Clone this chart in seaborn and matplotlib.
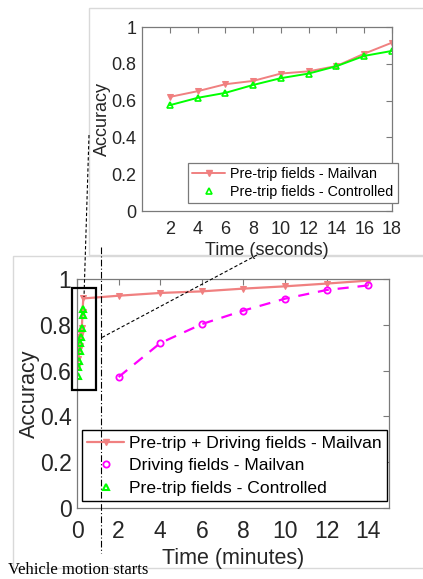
import matplotlib
matplotlib.use("Agg")
import matplotlib.pyplot as plt
from matplotlib.lines import Line2D
from matplotlib.patches import Rectangle
import seaborn as sns

# inset panel: pre-trip fields only, time in seconds
seconds = [2, 4, 6, 8, 10, 12, 14, 16, 18]
pretrip_mailvan = [0.62, 0.651, 0.689, 0.707, 0.747, 0.759, 0.788, 0.855, 0.915]
pretrip_controlled = [0.575, 0.615, 0.642, 0.685, 0.722, 0.747, 0.787, 0.843, 0.87]

# main panel: time in minutes after vehicle motion starts
minutes = [2, 4, 6, 8, 10, 12, 14]
combined_mailvan = [0.927, 0.939, 0.946, 0.958, 0.968, 0.98, 0.993]
driving_mailvan = [0.572, 0.72, 0.803, 0.862, 0.914, 0.952, 0.972]

RED = "#f08080"
GREEN = "#00ff00"
MAGENTA = "#ff00ff"
GREY = "#7a7a7a"
TXT = "#262626"

sns.set_theme(style="white")
plt.rcParams["font.family"] = ["Liberation Sans", "DejaVu Sans"]

W, H = 423, 579
fig = plt.figure(figsize=(W / 100, H / 100), dpi=100)


def fx(px):
    return px / W


def fy(py):
    return 1 - py / H


# white panels with light grey frame (two stacked figures), behind the axes
fig.patches.append(Rectangle((fx(13), fy(568)), fx(430 - 13), (568 - 256) / H,
                             transform=fig.transFigure, facecolor="white",
                             edgecolor="#d9d9d9", lw=1, zorder=-2))
fig.patches.append(Rectangle((fx(89), fy(255)), fx(430 - 89), (255 - 8) / H,
                             transform=fig.transFigure, facecolor="white",
                             edgecolor="#d9d9d9", lw=1, zorder=-2))


def matlab_style(ax, fs, xpad):
    for s in ax.spines.values():
        s.set_visible(True)
        s.set_color(GREY)
        s.set_linewidth(0.9)
    ax.tick_params(axis="both", direction="in", top=True, right=True, length=4,
                   width=0.8, color=GREY, labelsize=fs, labelcolor=TXT)
    ax.tick_params(axis="x", pad=xpad)
    ax.tick_params(axis="y", pad=4)
    ax.patch.set_alpha(0)


# ---------------- main axes ----------------
ax = fig.add_axes([fx(77), fy(508), fx(389 - 77), (508 - 279) / H])
t_main = [s / 60 for s in seconds] + minutes
acc_main = pretrip_mailvan + combined_mailvan
sns.lineplot(x=t_main, y=acc_main, ax=ax, color=RED, lw=1.6, marker="v",
             markersize=5, markeredgecolor=RED, sort=False)
sns.lineplot(x=minutes, y=driving_mailvan, ax=ax, color=MAGENTA, lw=1.6,
             linestyle=(0, (5, 4)), marker="o", markersize=4.5,
             markerfacecolor="none", markeredgecolor=MAGENTA, markeredgewidth=1.3)
sns.lineplot(x=[s / 60 for s in seconds], y=pretrip_controlled, ax=ax,
             color=GREEN, linestyle="", marker="^", markersize=5,
             markerfacecolor="none", markeredgecolor=GREEN, markeredgewidth=1.5)
ax.set_xlim(0, 15)
ax.set_ylim(0, 1)
ax.set_xticks(range(0, 15, 2))
ax.set_yticks([0, 0.2, 0.4, 0.6, 0.8, 1])
ax.set_yticklabels(["0", "0.2", "0.4", "0.6", "0.8", "1"])
matlab_style(ax, 16.5, 9)
ax.set_xlabel("Time (minutes)", fontsize=15.5, color=TXT, labelpad=3)
ax.set_ylabel("Accuracy", fontsize=15.5, color=TXT, labelpad=0)

handles = [
    Line2D([], [], color=RED, lw=1.6, marker="v", markersize=5),
    Line2D([], [], color=MAGENTA, linestyle="", marker="o", markersize=4.5,
           markerfacecolor="none", markeredgewidth=1.3),
    Line2D([], [], color=GREEN, linestyle="", marker="^", markersize=5,
           markerfacecolor="none", markeredgewidth=1.5),
]
leg = ax.legend(handles, ["Pre-trip + Driving fields - Mailvan",
                          "Driving fields - Mailvan",
                          "Pre-trip fields - Controlled"],
                loc="lower left", bbox_to_anchor=(0.016, 0.03), fontsize=12.6,
                frameon=True, fancybox=False, framealpha=1, edgecolor="black",
                handlelength=2.1, handletextpad=0.3, borderpad=0.3,
                labelspacing=0.42, borderaxespad=0)
leg.get_frame().set_linewidth(1.0)
for t in leg.get_texts():
    t.set_color("black")

# ---------------- inset axes ----------------
ax2 = fig.add_axes([fx(142), fy(211), fx(392 - 142), (211 - 27) / H])
sns.lineplot(x=seconds, y=pretrip_mailvan, ax=ax2, color=RED, lw=1.4,
             marker="v", markersize=4, markeredgecolor=RED)
sns.lineplot(x=seconds, y=pretrip_controlled, ax=ax2, color=GREEN, lw=1.4,
             marker="^", markersize=4, markerfacecolor="none",
             markeredgecolor=GREEN, markeredgewidth=1.2)
ax2.set_xlim(0, 18)
ax2.set_ylim(0, 1)
ax2.set_xticks(seconds)
ax2.set_yticks([0, 0.2, 0.4, 0.6, 0.8, 1])
ax2.set_yticklabels(["0", "0.2", "0.4", "0.6", "0.8", "1"])
matlab_style(ax2, 13, 7)
ax2.set_xlabel("Time (seconds)", fontsize=13, color=TXT, labelpad=3)
ax2.set_ylabel("Accuracy", fontsize=13, color=TXT, labelpad=0)
handles2 = [
    Line2D([], [], color=RED, lw=1.4, marker="v", markersize=4),
    Line2D([], [], color=GREEN, linestyle="", marker="^", markersize=4,
           markerfacecolor="none", markeredgewidth=1.2),
]
leg2 = ax2.legend(handles2, ["Pre-trip fields - Mailvan",
                             "Pre-trip fields - Controlled"],
                  loc="lower left", bbox_to_anchor=(0.184, 0.043), fontsize=10.3,
                  frameon=True, fancybox=False, framealpha=1, edgecolor=GREY,
                  handlelength=2.3, handletextpad=0.35, borderpad=0.3,
                  labelspacing=0.25, borderaxespad=0)
leg2.get_frame().set_linewidth(0.9)
for t in leg2.get_texts():
    t.set_color("black")

# ---------------- annotations (figure pixel coords) ----------------
fig.patches.append(Rectangle((fx(72), fy(390)), fx(96 - 72), (390 - 288) / H,
                             transform=fig.transFigure, fill=False,
                             edgecolor="black", lw=1.6, zorder=5))
fig.add_artist(Line2D([fx(89), fx(84)], [fy(135), fy(297)], color="black",
                      lw=0.8, linestyle=(0, (3, 2))))
fig.add_artist(Line2D([fx(257), fx(101)], [fy(255), fy(338)], color="black",
                      lw=0.8, linestyle=(0, (3, 2))))
fig.add_artist(Line2D([fx(101), fx(101)], [fy(247), fy(553)], color="black",
                      lw=0.8, linestyle=(0, (6, 2, 1, 2))))
fig.text(fx(8), fy(574), "Vehicle motion starts", fontsize=12,
         family=["Liberation Serif", "DejaVu Serif"], color="black",
         ha="left", va="baseline")

fig.savefig("out.png", dpi=100)
